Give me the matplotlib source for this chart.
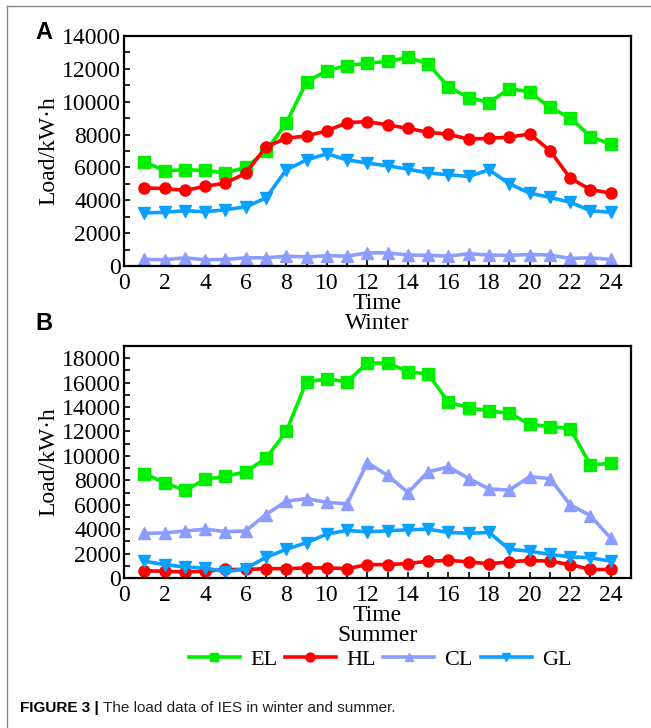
import matplotlib
matplotlib.use("Agg")
import matplotlib.pyplot as plt
from matplotlib.lines import Line2D
from matplotlib.ticker import MultipleLocator

hours = list(range(1, 25))

# winter loads (kW.h)
el_winter = [6350, 5800, 5860, 5820, 5660, 6000, 7000, 8700, 11200, 11900, 12200, 12350,
             12450, 12700, 12300, 10900, 10250, 9950, 10800, 10600, 9650, 9030, 7880, 7410]
hl_winter = [4750, 4720, 4600, 4850, 5050, 5650, 7250, 7780, 7920, 8220, 8730, 8790,
             8590, 8380, 8140, 8020, 7720, 7780, 7840, 8040, 7030, 5350, 4650, 4440]
cl_winter = [400, 380, 500, 380, 400, 500, 500, 600, 550, 630, 600, 800,
             800, 670, 650, 600, 750, 670, 650, 700, 670, 460, 500, 400]
gl_winter = [3230, 3270, 3370, 3300, 3430, 3600, 4140, 5860, 6460, 6830, 6460, 6260,
             6100, 5900, 5660, 5560, 5450, 5860, 5000, 4440, 4180, 3880, 3370, 3270]

# summer loads (kW.h)
el_summer = [8560, 7790, 7180, 8070, 8340, 8700, 9800, 12000, 16080, 16300, 16080, 17600,
             17600, 16900, 16700, 14400, 13950, 13670, 13500, 12600, 12400, 12240, 9250, 9400]
hl_summer = [600, 550, 500, 550, 700, 700, 770, 770, 830, 830, 770, 1100,
             1100, 1190, 1380, 1440, 1330, 1160, 1330, 1440, 1380, 1100, 700, 700]
cl_summer = [3650, 3700, 3850, 4000, 3800, 3850, 5200, 6300, 6500, 6200, 6080, 9450,
             8400, 7000, 8700, 9100, 8150, 7300, 7200, 8300, 8150, 6000, 5100, 3260]
gl_summer = [1380, 1100, 900, 830, 500, 770, 1700, 2350, 2900, 3600, 3900, 3780,
             3870, 3950, 4000, 3730, 3670, 3730, 2350, 2200, 1930, 1740, 1660, 1380]

names = ["EL", "HL", "CL", "GL"]
colors = ["#00ee00", "#ff0000", "#8c9dff", "#0aa0ff"]
markers = ["s", "o", "^", "v"]

plt.rcParams["font.family"] = ["Liberation Serif", "DejaVu Serif"]

fig = plt.figure(figsize=(6.51, 7.28), dpi=100)

def draw_panel(ax, series, ymax, season):
    for vals, name, c, m in zip(series, names, colors, markers):
        ax.plot(hours, vals, color=c, marker=m, lw=2.6, ms=8, label=name)
    ax.set_xlim(0, 25)
    ax.set_ylim(0, ymax)
    ax.xaxis.set_major_locator(MultipleLocator(2))
    ax.xaxis.set_minor_locator(MultipleLocator(1))
    ax.yaxis.set_major_locator(MultipleLocator(2000))
    ax.yaxis.set_minor_locator(MultipleLocator(1000))
    ax.tick_params(which="both", direction="in", length=4, width=1.2,
                   top=False, right=False, labelsize=17, pad=2)
    ax.tick_params(axis="x", which="both", pad=5)
    for s in ax.spines.values():
        s.set_linewidth(1.6)
    ax.set_ylabel("Load/kW·h", fontsize=17, labelpad=2)
    ax.set_xlabel("Time\n" + season, fontsize=17, labelpad=-1, linespacing=0.95)

ax1 = fig.add_axes([0.1905, 0.6346, 0.7788, 0.3159])
draw_panel(ax1, [el_winter, hl_winter, cl_winter, gl_winter], 14000, "Winter")

ax2 = fig.add_axes([0.1905, 0.2060, 0.7788, 0.3187])
draw_panel(ax2, [el_summer, hl_summer, cl_summer, gl_summer], 19000, "Summer")

ax2.legend(loc="center", bbox_to_anchor=(0.505, -0.35), ncol=4, frameon=False,
           fontsize=16, handlelength=2.3, columnspacing=0.35, handletextpad=0.45,
           markerscale=0.8)

# panel letters
fig.text(0.055, 0.955, "A", fontsize=17, fontweight="bold", family="Liberation Sans", va="center")
fig.text(0.055, 0.556, "B", fontsize=17, fontweight="bold", family="Liberation Sans", va="center")

# page frame lines
fig.add_artist(Line2D([0.011, 1.0], [0.992, 0.992], color="#888888", lw=1))
fig.add_artist(Line2D([0.011, 0.011], [0.0, 0.992], color="#888888", lw=1))

# caption
fig.text(0.03, 0.027, "FIGURE 3 |", fontsize=11, fontweight="bold",
         family=["Liberation Sans Narrow", "Liberation Sans"], va="center")
fig.text(0.158, 0.027, "The load data of IES in winter and summer.", fontsize=11,
         family=["Liberation Sans Narrow", "Liberation Sans"], va="center", color="#222222")

fig.savefig("out.png", dpi=100)
